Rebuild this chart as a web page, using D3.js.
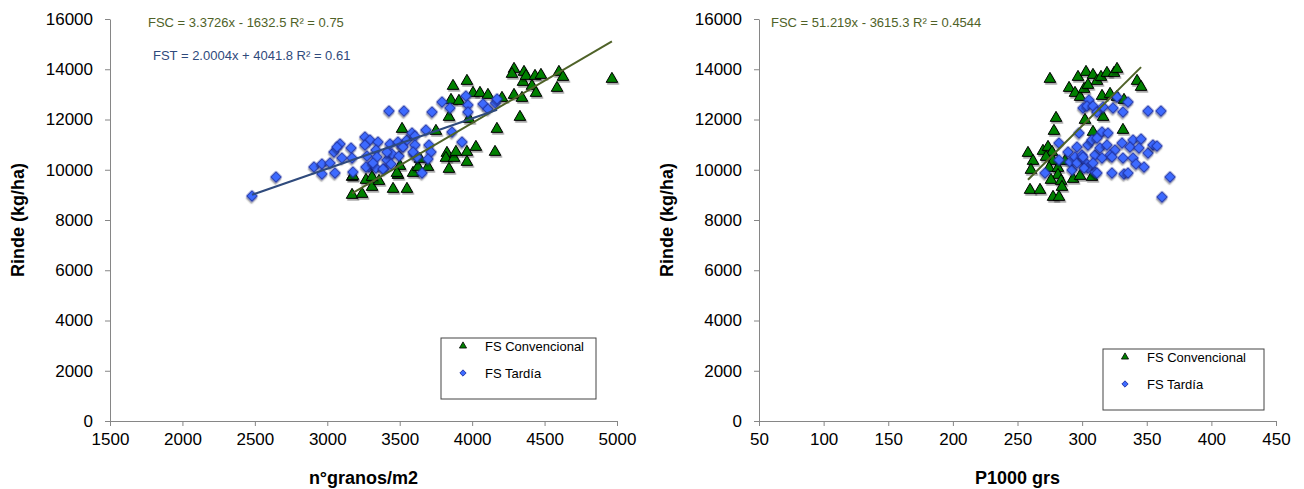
<!DOCTYPE html>
<html>
<head>
<meta charset="utf-8">
<script src="https://cdnjs.cloudflare.com/ajax/libs/d3/7.8.5/d3.min.js"></script>
<style>
  body { margin: 0; background: #fff; }
  svg { font-family: "Liberation Sans", Arial, sans-serif; }
  .axis path, .axis line { stroke: #868686; }
  .axis text { font-size: 17px; fill: #000; }
</style>
</head>
<body>
<script>
// data: [x, rinde kg/ha]
var granosFSC = [[3171,8995],[3240,9035],[3171,9711],[3267,9592],[3309,9313],[3357,9552],[3309,9711],
  [3454,9234],[3550,9234],[3488,9791],[3592,9870],[3626,10109],[3516,11622],[3502,10149],[3640,10428],
  [3695,10109],[3750,11542],[3826,10666],[3819,10467],[3840,10030],[3875,10467],[3888,10706],[3964,10706],
  [3964,10308],[4026,10905],[3840,12099],[3978,12020],[3854,12776],[3909,12736],[3868,13333],[3964,13532],
  [4006,13054],[4054,13054],[4109,12975],[4206,12855],[4171,11622],[4158,10706],[4289,14010],[4275,13811],
  [4358,13890],[4351,13492],[4372,13731],[4434,13731],[4475,13771],[4599,13890],[4627,13691],[4965,13612],
  [4413,13333],[4441,13054],[4586,13253],[4289,12975],[4344,12855],[4330,12099],[3481,9870],[3177,9751]];

var granosFST = [[2480,8955],[2646,9711],[2908,10109],[2963,10229],[2963,9831],[3019,10268],[3053,9870],
  [3046,10706],[3088,11025],[3067,10905],[3101,10467],[3164,10865],[3171,10467],[3177,9910],[3260,11303],
  [3295,11184],[3350,11104],[3260,10985],[3274,10547],[3288,10109],[3336,10069],[3336,10786],[3343,10507],
  [3391,10030],[3412,10388],[3433,11025],[3447,10627],[3488,11104],[3495,10547],[3516,10945],[3550,11184],
  [3585,11462],[3605,11343],[3599,10627],[3426,12338],[3529,12338],[3440,10229],[3267,10109],[3723,12298],
  [3792,12696],[3847,12457],[3957,12935],[3971,12577],[3971,12298],[4075,12617],[4109,12418],[4160,12656],
  [4172,12816],[3681,11582],[3861,11502],[3930,11104],[3702,10985],[3716,10706],[3695,10428],[3654,9870],
  [3523,10905],[3605,10985],[3619,10507],[3592,10706],[3315,10268],[3385,10030],[3412,10706]];

var p1000FSC = [[275.1,13612],[296.8,13691],[303.0,13890],[308.4,13771],[311.5,13532],[314.6,13691],
  [319.2,13850],[324.7,13850],[327.0,14010],[342.5,13532],[345.6,13293],[289.9,13253],[294.5,13054],
  [298.4,12895],[301.5,13214],[304.5,13373],[315.4,12935],[321.6,13015],[327.0,12895],[332.4,12776],
  [279.8,12059],[278.2,11542],[302.2,11980],[316.2,12099],[308.4,11502],[331.6,11582],[258.1,10666],
  [262.0,10348],[269.7,10746],[273.6,10905],[276.7,10706],[272.1,10507],[277.5,10348],[286.8,10348],
  [260.4,9990],[274.4,10069],[281.3,10069],[281.3,9791],[275.9,9592],[283.7,9552],[284.4,9313],
  [293.0,9632],[298.4,9751],[307.6,9711],[259.7,9194],[267.4,9194],[277.5,8915],[282.1,8915]];

var p1000FST = [[305.3,12776],[300.7,12457],[303.8,12537],[308.4,12537],[311.5,12298],[316.2,12497],
  [323.9,12457],[327.0,12895],[331.6,12298],[335.5,12696],[351.0,12338],[361.0,12338],[297.6,11462],
  [282.1,11064],[271.3,9870],[282.1,10388],[289.1,10706],[296.0,10905],[290.6,10308],[294.5,10507],
  [292.2,9990],[299.9,10587],[302.2,10308],[304.5,10985],[307.6,11184],[310.0,10587],[315.4,11502],
  [311.5,11263],[320.0,11462],[313.8,10865],[319.2,10985],[325.4,10786],[321.6,10587],[315.4,10467],
  [304.5,10069],[310.0,9910],[301.5,10069],[330.9,11064],[339.4,11184],[345.6,11224],[337.0,10905],
  [344.0,10865],[331.6,10467],[339.4,10467],[341.7,10229],[347.9,10109],[351.0,10666],[354.8,10985],
  [357.9,10945],[323.1,9870],[332.4,9831],[335.5,9870],[311.5,9870],[368.0,9711],[361.8,8915],
  [296.0,10268],[300.7,10507],[308.4,10268],[323.1,10507]];

// trend lines [slope, intercept]
var trendGranosFSC = [3.3726, -1632.5];
var trendGranosFST = [2.0004, 4041.8];
var trendP1000FSC = [51.219, -3615.3];

// tick labels
var yTicks = [0, 2000, 4000, 6000, 8000, 10000, 12000, 14000, 16000];
var xTicksGranos = [1500, 2000, 2500, 3000, 3500, 4000, 4500, 5000];
var xTicksP1000 = [50, 100, 150, 200, 250, 300, 350, 400, 450];

var W = 1304, H = 489;
var plotTop = 19, plotBottom = 421;

var svg = d3.select("body").append("svg")
    .attr("width", W)
    .attr("height", H);

// excel-like marker shadow
var defs = svg.append("defs");
defs.append("filter")
    .attr("id", "shadow")
    .attr("x", "-50%").attr("y", "-50%")
    .attr("width", "200%").attr("height", "200%")
  .append("feDropShadow")
    .attr("dx", 1.2).attr("dy", 1.8)
    .attr("stdDeviation", 0.6)
    .attr("flood-color", "#000")
    .attr("flood-opacity", 0.35);

var triangle = d3.symbol().type(d3.symbolTriangle).size(58);
var diamond = d3.symbol().type(d3.symbolSquare).size(58);
var triangleSmall = d3.symbol().type(d3.symbolTriangle).size(22);
var diamondSmall = d3.symbol().type(d3.symbolSquare).size(20);

function panel(opt) {
    var x = d3.scaleLinear().domain(opt.xDomain).range([opt.left, opt.right]);
    var y = d3.scaleLinear().domain([0, 16000]).range([plotBottom, plotTop]);
    var g = svg.append("g");

    // axes
    g.append("g")
        .attr("class", "axis")
        .attr("transform", "translate(" + opt.left + ",0)")
        .call(d3.axisLeft(y).tickValues(yTicks).tickFormat(d3.format("d"))
            .tickSize(5).tickSizeOuter(0).tickPadding(12));
    g.append("g")
        .attr("class", "axis")
        .attr("transform", "translate(0," + plotBottom + ")")
        .call(d3.axisBottom(x).tickValues(opt.xTicks).tickFormat(d3.format("d"))
            .tickSize(5).tickSizeOuter(0).tickPadding(7));

    // axis titles
    g.append("text")
        .attr("transform", "rotate(-90)")
        .attr("x", -(plotTop + plotBottom) / 2)
        .attr("y", opt.left - 86)
        .attr("text-anchor", "middle")
        .style("font-size", "18px")
        .style("font-weight", "bold")
        .text("Rinde (kg/ha)");
    g.append("text")
        .attr("x", (opt.left + opt.right) / 2)
        .attr("y", 484)
        .attr("text-anchor", "middle")
        .style("font-size", "18px")
        .style("font-weight", "bold")
        .text(opt.xTitle);

    // points
    g.selectAll(".tri")
        .data(opt.fsc)
      .enter().append("path")
        .attr("d", triangle)
        .attr("transform", function(d) { return "translate(" + x(d[0]) + "," + y(d[1]) + ")"; })
        .attr("fill", "#008000")
        .attr("stroke", "#000")
        .attr("stroke-width", 1)
        .attr("filter", "url(#shadow)");
    g.selectAll(".dia")
        .data(opt.fst)
      .enter().append("path")
        .attr("d", diamond)
        .attr("transform", function(d) { return "translate(" + x(d[0]) + "," + y(d[1]) + ") rotate(45)"; })
        .attr("fill", "#3d6bff")
        .attr("stroke", "#1c2c9c")
        .attr("stroke-width", 1)
        .attr("filter", "url(#shadow)");

    // trend lines, over the range of each series
    opt.trends.forEach(function(t) {
        var ext = d3.extent(t.data, function(d) { return d[0]; });
        g.append("path")
            .datum(ext)
            .attr("fill", "none")
            .attr("stroke", t.color)
            .attr("stroke-width", 2)
            .attr("d", d3.line()
                .x(function(d) { return x(d); })
                .y(function(d) { return y(t.coef[0] * d + t.coef[1]); }));
        g.append("text")
            .attr("x", t.lx)
            .attr("y", t.ly)
            .style("font-size", "13px")
            .attr("fill", t.color)
            .text(t.label);
    });

    // legend
    var lg = g.append("g").attr("transform", "translate(" + opt.legend[0] + "," + opt.legend[1] + ")");
    lg.append("rect")
        .attr("width", opt.legend[2])
        .attr("height", 61)
        .attr("fill", "#fff")
        .attr("stroke", "#444")
        .attr("stroke-width", 1);
    lg.append("path")
        .attr("d", triangleSmall)
        .attr("transform", "translate(22,8)")
        .attr("fill", "#008000")
        .attr("stroke", "#000")
        .attr("stroke-width", 0.8);
    lg.append("path")
        .attr("d", diamondSmall)
        .attr("transform", "translate(22,35) rotate(45)")
        .attr("fill", "#3d6bff")
        .attr("stroke", "#1c2c9c")
        .attr("stroke-width", 0.8);
    lg.append("text").attr("x", 44).attr("y", 13).style("font-size", "13px").text("FS Convencional");
    lg.append("text").attr("x", 44).attr("y", 40).style("font-size", "13px").text("FS Tardía");
}

panel({
    left: 110, right: 617,
    xDomain: [1500, 5000], xTicks: xTicksGranos,
    xTitle: "n°granos/m2",
    fsc: granosFSC, fst: granosFST,
    trends: [
        {data: granosFSC, coef: trendGranosFSC, color: "#4f6228", lx: 148, ly: 27,
         label: "FSC = 3.3726x - 1632.5 R² = 0.75"},
        {data: granosFST, coef: trendGranosFST, color: "#2f4a7c", lx: 153, ly: 60,
         label: "FST = 2.0004x + 4041.8 R² = 0.61"}
    ],
    legend: [441, 338, 155]
});

panel({
    left: 759, right: 1276,
    xDomain: [50, 450], xTicks: xTicksP1000,
    xTitle: "P1000 grs",
    fsc: p1000FSC, fst: p1000FST,
    trends: [
        {data: p1000FSC, coef: trendP1000FSC, color: "#4f6228", lx: 771, ly: 27,
         label: "FSC = 51.219x - 3615.3 R² = 0.4544"}
    ],
    legend: [1103, 349, 161]
});
</script>
</body>
</html>
